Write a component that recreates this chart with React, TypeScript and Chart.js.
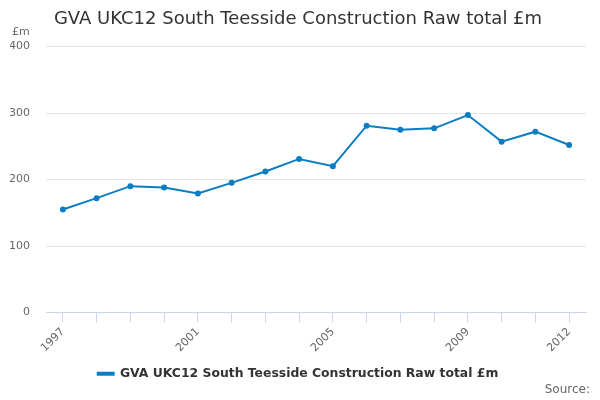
import { useEffect, useRef } from "react";
import { Chart, registerables } from "chart.js";

Chart.register(...registerables);

const years = [
  "1997", "1998", "1999", "2000", "2001", "2002", "2003", "2004",
  "2005", "2006", "2007", "2008", "2009", "2010", "2011", "2012",
];
const gvaValues = [155, 172, 190, 188, 179, 195, 212, 231, 220, 281, 275, 277, 297, 257, 272, 252];
const shownYearIdx = [0, 4, 8, 12, 15];
const yTicks = [0, 100, 200, 300, 400];

const seriesName = "GVA UKC12 South Teesside Construction Raw total £m";
const lineColor = "#0b7dc4";
const font = "'DejaVu Sans', Verdana, sans-serif";

// draws the "£m" unit at top left and the "Source:" credit at bottom right
const extraText = {
  id: "extraText",
  afterDraw(chart: any) {
    const ctx = chart.ctx;
    ctx.save();
    ctx.fillStyle = "#666666";
    ctx.font = `11px ${font}`;
    ctx.textBaseline = "middle";
    ctx.textAlign = "left";
    ctx.fillText("£m", 12, 32);
    ctx.font = `12px ${font}`;
    ctx.textAlign = "right";
    ctx.fillText("Source:", 590, 390);
    ctx.restore();
  },
};

const App = () => {
  const canvasRef = useRef<HTMLCanvasElement | null>(null);

  useEffect(() => {
    document.body.style.margin = "0";
    const canvas = canvasRef.current;
    if (!canvas) return;
    const chart = new Chart(canvas, {
      type: "line",
      data: {
        labels: years,
        datasets: [
          {
            label: seriesName,
            data: gvaValues,
            borderColor: lineColor,
            backgroundColor: lineColor,
            borderWidth: 2,
            pointRadius: 2,
            pointHoverRadius: 2,
            tension: 0,
          },
        ],
      },
      options: {
        responsive: false,
        animation: false,
        layout: { padding: { left: 10, right: 14, top: 0, bottom: 10 } },
        plugins: {
          title: {
            display: true,
            text: seriesName,
            color: "#333333",
            font: { family: font, size: 18, weight: "normal" },
            padding: { top: 9, bottom: 16 },
          },
          legend: {
            position: "bottom",
            labels: {
              color: "#333333",
              font: { family: font, size: 12.4, weight: "bold" },
              boxWidth: 16,
              boxHeight: 2,
              padding: 10,
            },
          },
          tooltip: { enabled: false },
        },
        scales: {
          x: {
            offset: true,
            grid: {
              offset: false,
              drawOnChartArea: false,
              drawTicks: true,
              tickLength: 10,
              color: "#ccd6eb",
            },
            border: { color: "#ccd6eb" },
            ticks: {
              autoSkip: false,
              maxRotation: 45,
              minRotation: 45,
              color: "#666666",
              font: { family: font, size: 11 },
              callback: (_v: any, i: number) => (shownYearIdx.includes(i) ? years[i] : ""),
            },
          },
          y: {
            min: 0,
            max: 400,
            afterBuildTicks: (axis: any) => {
              axis.ticks = yTicks.map((v) => ({ value: v }));
            },
            afterFit: (axis: any) => {
              axis.width = 36;
            },
            grid: { color: "#e6e6e6", drawTicks: false },
            border: { display: false },
            ticks: {
              color: "#666666",
              font: { family: font, size: 11 },
              padding: 16,
            },
          },
        },
      },
      plugins: [extraText],
    });
    return () => chart.destroy();
  }, []);

  return <canvas ref={canvasRef} width={600} height={400} />;
};

export default App;
